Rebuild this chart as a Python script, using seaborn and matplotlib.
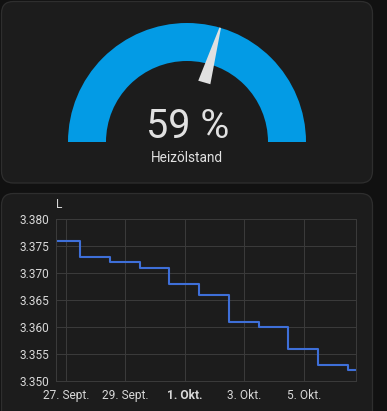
import pandas as pd
import matplotlib
matplotlib.use("Agg")
import matplotlib.pyplot as plt
import seaborn as sns
import numpy as np
from matplotlib.patches import FancyBboxPatch, Wedge, Polygon

# gauge
gauge_value = 59
gauge_label = "Heizölstand"

# history (daily readings in L)
times = [
    "2023-09-26 11:30", "2023-09-27 11:30", "2023-09-28 11:30", "2023-09-29 11:30",
    "2023-09-30 11:30", "2023-10-01 11:30", "2023-10-02 11:30", "2023-10-03 11:30",
    "2023-10-04 11:30", "2023-10-05 11:30", "2023-10-06 11:30", "2023-10-06 18:00",
]
levels = [3.376, 3.373, 3.372, 3.371, 3.368, 3.366, 3.361, 3.360, 3.356, 3.353, 3.352, 3.352]
tick_days = ["2023-09-27", "2023-09-29", "2023-10-01", "2023-10-03", "2023-10-05"]
tick_labels = ["27. Sept.", "29. Sept.", "1. Okt.", "3. Okt.", "5. Okt."]
y_ticks = [3.350, 3.355, 3.360, 3.365, 3.370, 3.375, 3.380]

df = pd.DataFrame({"time": pd.to_datetime(times), "level": levels})

sns.set_theme(style="dark")
plt.rcParams["font.family"] = ["Roboto", "DejaVu Sans"]

W, H = 387, 411
fig = plt.figure(figsize=(W / 100, H / 100), dpi=100, facecolor="#111111")

# background + cards + gauge, in pixel coords (y up)
bg = fig.add_axes([0, 0, 1, 1])
bg.set_xlim(0, W)
bg.set_ylim(0, H)
bg.axis("off")
bg.set_facecolor("#111111")

for (x0, y0, x1, y1) in [(1.5, 228, 372.5, 409.5), (1.5, -30, 372.5, 217.5)]:
    bg.add_patch(FancyBboxPatch((x0 + 12, y0 + 12), x1 - x0 - 24, y1 - y0 - 24,
                                boxstyle="round,pad=12", fc="#1c1c1c", ec="#2e2e2e", lw=0.9))

cx, cy, r_out, r_in = 187, H - 142, 119, 81
bg.add_patch(Wedge((cx, cy), r_out, 0, 180, width=r_out - r_in, fc="#039be5", ec="none"))

ang = np.deg2rad(180 - 180 * gauge_value / 100)
d = np.array([np.cos(ang), np.sin(ang)])
n = np.array([-d[1], d[0]])
c = np.array([cx, cy])
base, tip = c + 62 * d, c + 119 * d
needle = [base + 6.3 * n, tip + 0.8 * n, tip - 0.8 * n, base - 6.3 * n]
bg.add_patch(Polygon(needle, closed=True, fc="#e0e0e0", ec="none"))

bg.text(cx + 1, H - 138, f"{gauge_value} %", ha="center", va="baseline",
        fontsize=28.5, color="#e1e1e1")
bg.text(cx, H - 162, gauge_label, ha="center", va="baseline", fontsize=9.8, color="#e1e1e1")

# history chart
ax = fig.add_axes([56 / W, (H - 381) / H, 300 / W, 162 / H])
ax.set_facecolor("#1c1c1c")
sns.lineplot(data=df, x="time", y="level", ax=ax, drawstyle="steps-post",
             color="#3e6fd8", linewidth=1.5)

ax.set_xlim(pd.Timestamp("2023-09-26 16:00"), pd.Timestamp("2023-10-06 18:00"))
ax.set_ylim(3.350, 3.380)
ax.set_yticks(y_ticks)
ax.set_yticklabels([f"{v:.3f}" for v in y_ticks])
ax.set_xticks(pd.to_datetime(tick_days))
ax.set_xticklabels(tick_labels)
for lbl, txt in zip(ax.get_xticklabels(), tick_labels):
    if txt.startswith("1."):
        lbl.set_fontweight("bold")

grid_c = "#3a3a3a"
ax.grid(True, color=grid_c, linewidth=0.75)
for s in ax.spines.values():
    s.set_color(grid_c)
    s.set_linewidth(0.75)
ax.tick_params(axis="both", colors=grid_c, length=3, width=0.75, labelsize=8.6,
               labelcolor="#d8d8d8")
ax.tick_params(axis="x", pad=3)
ax.tick_params(axis="y", pad=1.5)
ax.set_xlabel("")
ax.set_ylabel("")

bg.text(56, H - 205, "L", ha="left", va="center", fontsize=8.6, color="#d8d8d8")

fig.savefig("out.png", dpi=100, facecolor=fig.get_facecolor())
